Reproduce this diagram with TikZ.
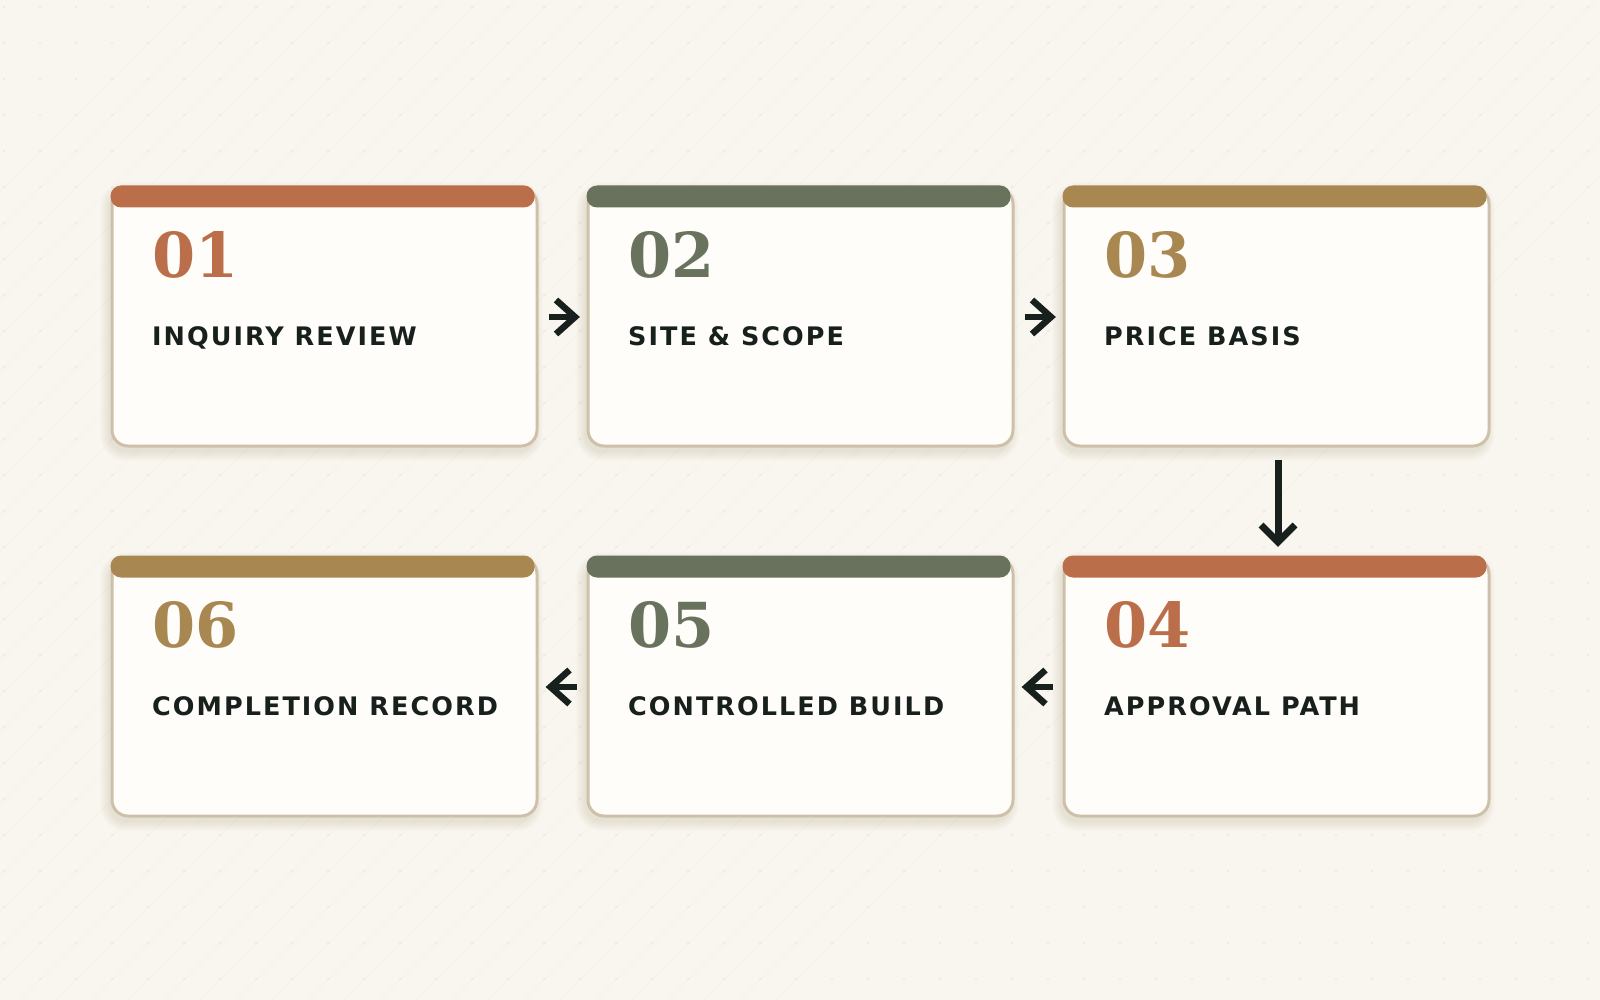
\documentclass[tikz,border=0pt]{standalone}
\usepackage{fontspec}
\usetikzlibrary{calc}
\newfontfamily\numfont{DejaVu Serif}
\newfontfamily\ttlfont[LetterSpace=8]{DejaVu Sans}
\definecolor{bgc}{HTML}{F9F6F0}
\definecolor{cardfill}{HTML}{FEFDF9}
\definecolor{cardline}{HTML}{CFC0AA}
\definecolor{terra}{HTML}{BB6E4A}
\definecolor{olive}{HTML}{68725C}
\definecolor{gold}{HTML}{A98751}
\definecolor{ink}{HTML}{18201D}
\definecolor{patc}{HTML}{E3DCCF}
\definecolor{shadc}{HTML}{5A4A30}
\tikzset{
  cardbox/.style={draw=cardline, line width=3pt, fill=cardfill, rounded corners=16pt},
  barbox/.style={rounded corners=10.5pt},
  numtext/.style={anchor=base west, inner sep=0pt, font=\numfont\bfseries\fontsize{62}{62}\selectfont},
  ttltext/.style={anchor=base west, inner sep=0pt, text=ink, font=\ttlfont\bfseries\fontsize{25.5}{26}\selectfont},
  arrowline/.style={draw=ink, line width=6.5pt, line join=miter, line cap=butt},
  downline/.style={draw=ink, line width=7pt, line join=miter, line cap=butt}
}
\begin{document}
\begin{tikzpicture}[x=1pt,y=-1pt]
\useasboundingbox (0,0) rectangle (1600,1000);
\fill[bgc] (0,0) rectangle (1600,1000);
% faint background pattern
\begin{scope}[opacity=0.18]
\foreach \i in {-28,...,16} {
  \draw[patc, line width=0.5pt] (\i*36+200,1000) -- (\i*36+1200,0);
}
\end{scope}
\begin{scope}[opacity=0.5]
\foreach \i in {0,...,44} {
  \foreach \j in {0,...,27} {
    \fill[patc] (4+\i*36,7+\j*36) circle (1.1pt);
  }
}
\end{scope}
% cards
\newcommand{\mkcard}[7]{%
  % #1 name, #2 x, #3 y, #4 colour, #5 number, #6 title
  \foreach \k in {1,...,10} {
    \fill[shadc, opacity=0.011, rounded corners=16pt+\k pt]
      (#2-\k+1,#3+6-\k+1) rectangle (#2+425+\k-1,#3+7+260+\k-1);
  }
  \node[cardbox, minimum width=425pt, minimum height=258pt, inner sep=0pt, anchor=north west] (#1) at (#2+1.5,#3+1.5) {};
  \fill[#4, barbox] (#2+1.5,#3+0.5) rectangle (#2+425.5,#3+22.5);
  \node[numtext, text=#4] (#1num) at (#2+43,#3+92) {#5};
  \node[ttltext] (#1ttl) at (#2+43,#3+160) {#6};
}
\mkcard{c1}{109}{185}{terra}{01}{INQUIRY REVIEW}{}
\mkcard{c2}{585}{185}{olive}{02}{SITE \& SCOPE}{}
\mkcard{c3}{1061}{185}{gold}{03}{PRICE BASIS}{}
\mkcard{c4}{1061}{555}{terra}{04}{APPROVAL PATH}{}
\mkcard{c5}{585}{555}{olive}{05}{CONTROLLED BUILD}{}
\mkcard{c6}{109}{555}{gold}{06}{COMPLETION RECORD}{}
% arrows
\coordinate (m12) at ($(c1.east)!0.5!(c2.west)+(2.5,0)$);
\coordinate (m23) at ($(c2.east)!0.5!(c3.west)+(2.5,0)$);
\coordinate (m45) at ($(c5.east)!0.5!(c4.west)+(-2,0)$);
\coordinate (m56) at ($(c6.east)!0.5!(c5.west)+(-2,0)$);
\coordinate (d34s) at ($(c3.south)+(1.5,12.5)$);
\coordinate (d34e) at ($(c4.north)+(1.5,-14.5)$);
\foreach \m in {m12,m23} {
  \draw[arrowline] ($(\m)+(-16,0)$) -- ($(\m)+(10,0)$);
  \draw[arrowline] ($(\m)+(-9,-17)$) -- ($(\m)+(10,0)$) -- ($(\m)+(-9,17)$);
}
\foreach \m in {m45,m56} {
  \draw[arrowline] ($(\m)+(16,0)$) -- ($(\m)+(-10,0)$);
  \draw[arrowline] ($(\m)+(9,-17)$) -- ($(\m)+(-10,0)$) -- ($(\m)+(9,17)$);
}
\draw[downline] (d34s) -- (d34e);
\draw[downline] ($(d34e)+(-17,-17)$) -- (d34e) -- ($(d34e)+(17,-17)$);
\end{tikzpicture}
\end{document}
